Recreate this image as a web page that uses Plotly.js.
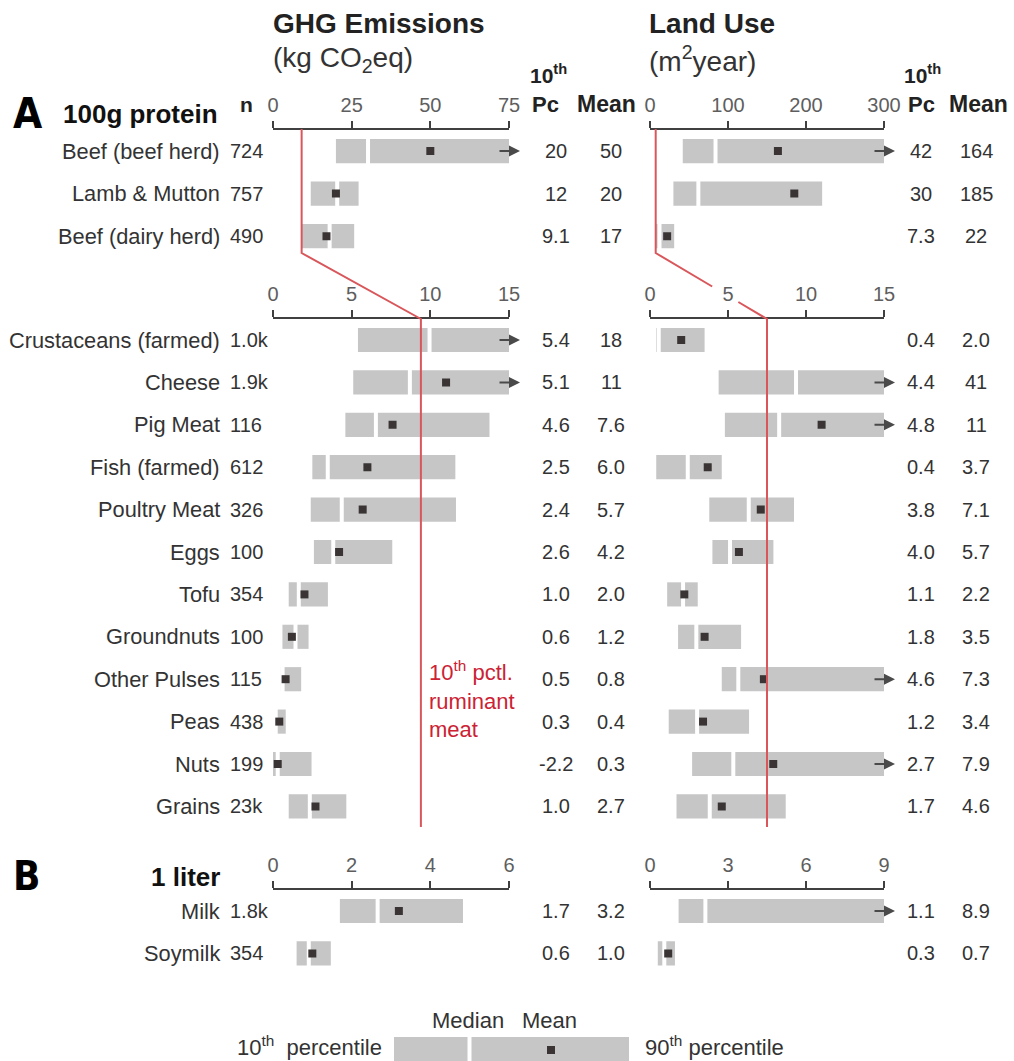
<!DOCTYPE html>
<html>
<head>
<meta charset="utf-8">
<script src="https://cdn.plot.ly/plotly-3.0.1.min.js"></script>
<style>html,body{margin:0;padding:0;background:#fff;}#chart{width:1014px;height:1061px;}</style>
</head>
<body>
<div id="chart"></div>
<script>
// ---------------- DATA ----------------
// Section A, ruminant rows (upper axes)
const topNames = ['Beef (beef herd)', 'Lamb & Mutton', 'Beef (dairy herd)'];
const topN = ['724', '757', '490'];
const topGhgP10 = [20, 12, 9.1];
const topGhgMed = [30.2, 20.4, 18.0];
const topGhgP90 = [105, 27.2, 25.8];
const topGhgMean = [50, 20, 17];
const topLandP10 = [42, 30, 7.3];
const topLandMed = [84, 62, 12.2];
const topLandP90 = [370, 220.7, 31];
const topLandMean = [164, 185, 22];

// Section A, other protein rows (middle axes)
const midNames = ['Crustaceans (farmed)', 'Cheese', 'Pig Meat', 'Fish (farmed)', 'Poultry Meat', 'Eggs',
  'Tofu', 'Groundnuts', 'Other Pulses', 'Peas', 'Nuts', 'Grains'];
const midN = ['1.0k', '1.9k', '116', '612', '326', '100', '354', '100', '115', '438', '199', '23k'];
const midGhgP10 = [5.4, 5.1, 4.6, 2.5, 2.4, 2.6, 1.0, 0.6, 0.5, 0.3, -2.2, 1.0];
const midGhgMed = [9.95, 8.7, 6.54, 3.48, 4.37, 3.83, 1.64, 1.43, 0.61, 0.13, 0.3, 2.34];
const midGhgP90 = [26, 23, 13.76, 11.59, 11.63, 7.58, 3.49, 2.26, 1.79, 0.81, 2.45, 4.66];
const midGhgMean = [18, 11, 7.6, 6.0, 5.7, 4.2, 2.0, 1.2, 0.8, 0.4, 0.3, 2.7];
const midLandP10 = [0.4, 4.4, 4.8, 0.4, 3.8, 4.0, 1.1, 1.8, 4.6, 1.2, 2.7, 1.7];
const midLandMed = [0.56, 9.36, 8.28, 2.42, 6.33, 5.13, 2.12, 2.97, 5.66, 3.02, 5.34, 3.83];
const midLandP90 = [3.5, 88, 17, 4.6, 9.23, 7.91, 3.06, 5.84, 16, 6.35, 20, 8.7];
const midLandMean = [2.0, 41, 11, 3.7, 7.1, 5.7, 2.2, 3.5, 7.3, 3.4, 7.9, 4.6];

// Section B, 1 liter
const milkNames = ['Milk', 'Soymilk'];
const milkN = ['1.8k', '354'];
const milkGhgP10 = [1.7, 0.6];
const milkGhgMed = [2.66, 0.91];
const milkGhgP90 = [4.83, 1.47];
const milkGhgMean = [3.2, 1.0];
const milkLandP10 = [1.1, 0.3];
const milkLandMed = [2.13, 0.55];
const milkLandP90 = [12, 0.96];
const milkLandMean = [8.9, 0.7];

// Axis ticks
const ghgTopTicks = [0, 25, 50, 75];
const ghgMidTicks = [0, 5, 10, 15];
const ghgMilkTicks = [0, 2, 4, 6];
const landTopTicks = [0, 100, 200, 300];
const landMidTicks = [0, 5, 10, 15];
const landMilkTicks = [0, 3, 6, 9];

// 10th percentile of ruminant meat (reference line)
const ghgRumP10Top = 9.1, ghgRumP10Mid = 9.4;
const landRumP10Top = 7.3, landRumP10Mid = 7.5;

// ---------------- LAYOUT HELPERS ----------------
const W = 1014, H = 1061;
const py = p => 1 - p / H;
const px = p => p / W;
const ghgDom = [px(273), px(509)];
const landDom = [px(650), px(884)];
const topDom = [py(257.4), py(129.8)];
const midDom = [py(827.6), py(318.8)];
const milkDom = [py(974.6), py(889.8)];

const FONT = 'Liberation Sans, Arial, Helvetica, sans-serif';
const TXT = '#333333';
const BAR = '#c6c6c6';
const MEANC = '#3a3434';
const RED = '#d9575b';
const AXC = '#404040';
const NAMESZ = 21.8;

const sections = [
  {names: topNames, n: topN, y: 'y', panels: [
    {xa: 'x',  ticks: ghgTopTicks,  p10: topGhgP10,  med: topGhgMed,  p90: topGhgP90,  mean: topGhgMean},
    {xa: 'x4', ticks: landTopTicks, p10: topLandP10, med: topLandMed, p90: topLandP90, mean: topLandMean}]},
  {names: midNames, n: midN, y: 'y2', panels: [
    {xa: 'x2', ticks: ghgMidTicks,  p10: midGhgP10,  med: midGhgMed,  p90: midGhgP90,  mean: midGhgMean},
    {xa: 'x5', ticks: landMidTicks, p10: midLandP10, med: midLandMed, p90: midLandP90, mean: midLandMean}]},
  {names: milkNames, n: milkN, y: 'y3', panels: [
    {xa: 'x3', ticks: ghgMilkTicks,  p10: milkGhgP10,  med: milkGhgMed,  p90: milkGhgP90,  mean: milkGhgMean},
    {xa: 'x6', ticks: landMilkTicks, p10: milkLandP10, med: milkLandMed, p90: milkLandP90, mean: milkLandMean}]}
];

const fmt = v => (Math.abs(v) >= 10 ? String(Math.round(v)) : v.toFixed(1));

const traces = [];
const annotations = [];
const shapes = [];
const BARW = 0.57;
const BARPX = 24;

sections.forEach(sec => {
  const idx = sec.names.map((_, i) => i);
  sec.panels.forEach((p, pi) => {
    const max = p.ticks[p.ticks.length - 1];
    traces.push({type: 'bar', orientation: 'h', xaxis: p.xa, yaxis: sec.y,
      y: idx, x: p.p90.map((v, i) => v - p.p10[i]), base: p.p10, width: BARW,
      marker: {color: BAR, line: {width: 0}}, hoverinfo: 'skip', showlegend: false});
    traces.push({type: 'scatter', mode: 'markers', xaxis: p.xa, yaxis: sec.y,
      x: p.med, y: idx, marker: {symbol: 'line-ns', size: BARPX, color: '#ffffff', line: {color: '#ffffff', width: 4}},
      hoverinfo: 'skip', showlegend: false});
    const mx = [], my = [];
    p.mean.forEach((v, i) => { if (v <= max * 0.95) { mx.push(v); my.push(i); } });
    traces.push({type: 'scatter', mode: 'markers', xaxis: p.xa, yaxis: sec.y,
      x: mx, y: my, marker: {symbol: 'square', size: 8, color: MEANC, line: {width: 0}},
      hoverinfo: 'skip', showlegend: false});
    // arrows for bars that run past the axis end
    p.p90.forEach((v, i) => {
      if (v > max) {
        annotations.push({xref: p.xa, yref: sec.y, x: max, y: i, text: '', showarrow: true,
          axref: 'pixel', ayref: 'pixel', ax: -22, ay: 0, xshift: 11,
          arrowhead: 2, arrowsize: 1.1, arrowwidth: 2, arrowcolor: '#4a4a4a'});
      }
    });
    // table values
    const cx = pi === 0 ? [556, 611] : [921, 976];
    idx.forEach(i => {
      annotations.push({xref: 'paper', yref: sec.y, x: px(cx[0]), y: i, text: fmt(p.p10[i]),
        showarrow: false, xanchor: 'center', yanchor: 'middle', font: {family: FONT, size: 20, color: TXT}});
      annotations.push({xref: 'paper', yref: sec.y, x: px(cx[1]), y: i, text: fmt(p.mean[i]),
        showarrow: false, xanchor: 'center', yanchor: 'middle', font: {family: FONT, size: 20, color: TXT}});
    });
  });
  idx.forEach(i => {
    annotations.push({xref: 'paper', yref: sec.y, x: px(222), y: i, text: sec.names[i], showarrow: false,
      xanchor: 'right', yanchor: 'middle', font: {family: FONT, size: NAMESZ, color: TXT}});
    annotations.push({xref: 'paper', yref: sec.y, x: px(228), y: i, text: sec.n[i], showarrow: false,
      xanchor: 'left', yanchor: 'middle', font: {family: FONT, size: 20, color: TXT}});
  });
});

function xAxis(dom, ticks, anchor) {
  return {domain: dom, range: [ticks[0], ticks[ticks.length - 1]], tickvals: ticks, ticktext: ticks.map(String),
    anchor: anchor, side: 'top', showline: true, linecolor: AXC, linewidth: 2,
    ticks: 'outside', ticklen: 7, tickwidth: 2, tickcolor: AXC, ticklabelstandoff: 1,
    tickfont: {family: FONT, size: 20, color: '#5e5e5e'}, showgrid: false, zeroline: false, fixedrange: true};
}
function yAxis(dom, n) {
  return {domain: dom, range: [n - 0.5, -0.5], visible: false, showgrid: false, zeroline: false, fixedrange: true};
}

// reference (red) lines
function toPaper(dom, ticks, v) {
  const r0 = ticks[0], r1 = ticks[ticks.length - 1];
  return dom[0] + (v - r0) / (r1 - r0) * (dom[1] - dom[0]);
}
// [domain, top ticks, mid ticks, top value, mid value, gap in the diagonal (px rows) where it crosses a tick label]
[[ghgDom, ghgTopTicks, ghgMidTicks, ghgRumP10Top, ghgRumP10Mid, null],
 [landDom, landTopTicks, landMidTicks, landRumP10Top, landRumP10Mid, [286.5, 302]]].forEach(([dom, tT, tM, vT, vM, gap]) => {
  const xT = toPaper(dom, tT, vT), xM = toPaper(dom, tM, vM);
  const yA = 253, yB = 319;
  let path = `M ${xT} ${py(129)} L ${xT} ${py(yA)} `;
  if (gap) {
    const xi = yy => xT + (xM - xT) * (yy - yA) / (yB - yA);
    path += `L ${xi(gap[0])} ${py(gap[0])} M ${xi(gap[1])} ${py(gap[1])} `;
  }
  path += `L ${xM} ${py(yB)} L ${xM} ${py(827)}`;
  shapes.push({type: 'path', xref: 'paper', yref: 'paper', layer: 'above', path: path,
    line: {color: RED, width: 2}});
});

// headers and titles
const hdr = (x, y, text, size, opts = {}) => Object.assign({xref: 'paper', yref: 'paper', x: px(x), y: py(y), text: text,
  showarrow: false, xanchor: 'center', yanchor: 'middle', font: {family: opts.family || FONT, size: size, color: opts.color || '#222'}}, opts.extra || {});
const LETTER = 'DejaVu Sans Condensed, Liberation Sans, Arial';
annotations.push(hdr(271, 24, '<b>GHG Emissions</b>', 28, {extra: {xanchor: 'left'}}));
annotations.push(hdr(271, 59, '(kg CO<sub>2</sub>eq)', 28, {color: '#333', extra: {xanchor: 'left'}}));
annotations.push(hdr(647, 24, '<b>Land Use</b>', 28, {extra: {xanchor: 'left'}}));
annotations.push(hdr(647, 59, '(m<sup>2</sup>year)', 28, {color: '#333', extra: {xanchor: 'left'}}));
annotations.push(hdr(548, 74, '<b>10<sup>th</sup></b>', 21));
annotations.push(hdr(545, 104, '<b>Pc</b>', 22));
annotations.push(hdr(606, 104, '<b>Mean</b>', 23));
annotations.push(hdr(922, 74, '<b>10<sup>th</sup></b>', 21));
annotations.push(hdr(921, 104, '<b>Pc</b>', 22));
annotations.push(hdr(978, 104, '<b>Mean</b>', 23));
annotations.push(hdr(246, 104, '<b>n</b>', 21));
annotations.push(hdr(11, 113, '<b>A</b>', 42, {color: '#000', family: LETTER, extra: {xanchor: 'left'}}));
annotations.push(hdr(220, 114, '<b>100g protein</b>', 26, {color: '#111', extra: {xanchor: 'right'}}));
annotations.push(hdr(11, 876, '<b>B</b>', 40, {color: '#000', family: LETTER, extra: {xanchor: 'left'}}));
annotations.push(hdr(222, 877, '<b>1 liter</b>', 26, {color: '#111', extra: {xanchor: 'right'}}));
annotations.push(hdr(427, 699, '10<sup>th</sup> pctl.<br>ruminant<br>meat', 22, {color: '#cc2233', extra: {xanchor: 'left', align: 'left'}}));

// key
shapes.push({type: 'rect', xref: 'paper', yref: 'paper', x0: px(394), x1: px(629), y0: py(1061), y1: py(1037), fillcolor: BAR, line: {width: 0}, layer: 'above'});
shapes.push({type: 'line', xref: 'paper', yref: 'paper', x0: px(469.5), x1: px(469.5), y0: py(1061), y1: py(1037), line: {color: '#fff', width: 4}, layer: 'above'});
shapes.push({type: 'rect', xref: 'paper', yref: 'paper', x0: px(547), x1: px(555), y0: py(1054), y1: py(1046), fillcolor: MEANC, line: {width: 0}, layer: 'above'});
annotations.push(hdr(468, 1020, 'Median', 22, {color: TXT}));
annotations.push(hdr(549, 1020, 'Mean', 22, {color: TXT}));
annotations.push(hdr(384, 1046, '10<sup>th</sup>&nbsp; percentile', 22, {color: TXT, extra: {xanchor: 'right'}}));
annotations.push(hdr(643, 1046, '90<sup>th</sup> percentile', 22, {color: TXT, extra: {xanchor: 'left'}}));

const layout = {
  width: W, height: H, margin: {l: 0, r: 0, t: 0, b: 0}, paper_bgcolor: '#fff', plot_bgcolor: 'rgba(0,0,0,0)',
  showlegend: false, barmode: 'overlay', font: {family: FONT, color: TXT},
  xaxis: xAxis(ghgDom, ghgTopTicks, 'y'),
  xaxis2: xAxis(ghgDom, ghgMidTicks, 'y2'),
  xaxis3: xAxis(ghgDom, ghgMilkTicks, 'y3'),
  xaxis4: xAxis(landDom, landTopTicks, 'y'),
  xaxis5: xAxis(landDom, landMidTicks, 'y2'),
  xaxis6: xAxis(landDom, landMilkTicks, 'y3'),
  yaxis: yAxis(topDom, topNames.length),
  yaxis2: yAxis(midDom, midNames.length),
  yaxis3: yAxis(milkDom, milkNames.length),
  annotations: annotations, shapes: shapes
};

Plotly.newPlot('chart', traces, layout, {staticPlot: true, displayModeBar: false});
</script>
</body>
</html>
